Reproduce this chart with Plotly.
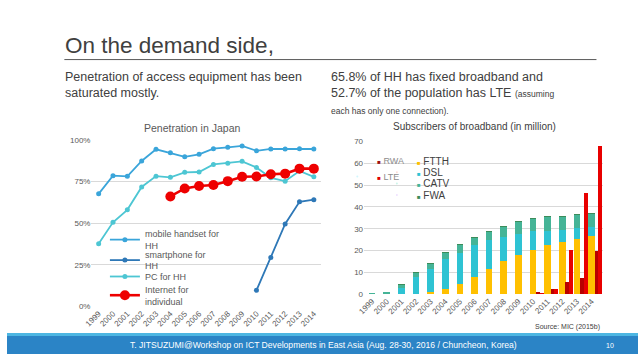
import plotly.graph_objects as go

# ---------------- data ----------------
years = [1999, 2000, 2001, 2002, 2003, 2004, 2005, 2006, 2007,
         2008, 2009, 2010, 2011, 2012, 2013, 2014]
year_labels = [str(y) for y in years]

mobile_hh = [67.6, 78.5, 78.1, 87.3, 94.3, 92.2, 89.8, 91.3, 94.7,
             95.5, 96.3, 93.4, 94.5, 94.5, 94.7, 94.5]
smartphone_hh = [None] * 11 + [9.7, 29.4, 49.5, 62.8, 64.1]
pc_hh = [37.7, 50.5, 58.0, 71.7, 78.2, 77.5, 80.5, 80.7, 85.2,
         86.0, 87.1, 83.4, 77.2, 75.2, 81.3, 77.8]
internet_ind = [None] * 5 + [66.0, 70.8, 72.3, 72.9, 75.2, 77.8,
                             78.0, 79.3, 79.7, 82.7, 82.7]

ftth = [0.0, 0.0, 0.0, 0.3, 0.9, 2.5, 4.6, 8.0, 11.6, 15.2, 17.9,
        20.4, 22.4, 24.0, 25.3, 26.7]
dsl = [0.0, 0.1, 2.7, 7.4, 10.7, 13.5, 14.5, 14.4, 13.1, 11.0, 9.8,
       8.8, 6.8, 5.5, 5.0, 4.3]
catv = [0.2, 0.8, 1.5, 2.1, 2.4, 3.0, 3.4, 3.5, 3.8, 4.4, 5.2,
        5.1, 6.0, 6.0, 5.8, 6.0]
fwa = [0.0, 0.0, 0.01, 0.02, 0.02, 0.02, 0.02, 0.02, 0.02, 0.02, 0.02,
       0.01, 0.01, 0.01, 0.01, 0.01]
rwa = [None] * 11 + [0.7, 2.4, 5.4, 7.6, 19.8]
lte = [None] * 11 + [0.03, 2.5, 20.1, 46.5, 67.8]

left_tickvals = [0, 25, 50, 75, 100]
left_ticktext = ["0%", "25%", "50%", "75%", "100%"]
right_tickvals = [0, 10, 20, 30, 40, 50, 60, 70]

# ---------------- styling ----------------
W, H = 638, 359
FONT = "Liberation Sans, Arial, sans-serif"
GRID = "#D9D9D9"
TXT = "#595959"
DARK = "#404040"


def px(xp):
    return xp / W


def py(yp):
    return 1 - yp / H


def leg(xpix, ypix, size, color):
    return dict(x=px(xpix), y=py(ypix), xanchor="left", yanchor="middle",
                bgcolor="rgba(0,0,0,0)", borderwidth=0,
                font=dict(family=FONT, size=size, color=color),
                traceorder="normal", itemwidth=30)


fig = go.Figure()

# Left chart: penetration lines
left_series = [
    ("mobile handset for<br>HH", mobile_hh, "#3AA5DA", 1.8, 5, "legend", 242),
    ("smartphone for<br>HH", smartphone_hh, "#2E78B7", 1.8, 5, "legend2", 263),
    ("PC for HH", pc_hh, "#4DC6D3", 1.8, 5, "legend3", 279.5),
    ("Internet for<br>individual", internet_ind, "#EE0000", 2.6, 10, "legend4", 299),
]
legends = {}
for name, vals, col, lw, ms, lg, ly in left_series:
    fig.add_trace(go.Scatter(x=year_labels, y=vals, name=name, mode="lines+markers",
                             line=dict(color=col, width=lw),
                             marker=dict(size=ms, color=col),
                             xaxis="x", yaxis="y", legend=lg))
    legends[lg] = leg(99, ly, 9, TXT)

# Right chart: stacked broadband bars
main_series = [("FTTH", ftth, "#FFC000", 161), ("DSL", dsl, "#2EC3D3", 172.5),
               ("CATV", catv, "#45B497", 184), ("FWA", fwa, "#3C8C5A", 196)]
for name, vals, col, ly in main_series:
    fig.add_trace(go.Bar(x=years, y=vals, name=name,
                         marker=dict(color=col, line=dict(width=0)),
                         width=0.45, xaxis="x2", yaxis="y2", showlegend=False))

fig.add_trace(go.Bar(x=years, y=rwa, name="RWA",
                     marker=dict(color="#B80000", line=dict(width=0)),
                     width=0.24, offset=0.22, xaxis="x3", yaxis="y2", showlegend=False))
fig.add_trace(go.Bar(x=years, y=lte, name="LTE",
                     marker=dict(color="#E80000", line=dict(width=0)),
                     width=0.28, offset=0.46, xaxis="x4", yaxis="y2", showlegend=False))

# legend entries for the bar chart (small square swatch + label)
legend_entries = main_series + [("RWA", None, "#9E1010", 161), ("LTE", None, "#E00000", 177)]
for i, (name, _, col, ly) in enumerate(legend_entries):
    lg = "legend%d" % (5 + i)
    is_wireless = name in ("RWA", "LTE")
    fig.add_trace(go.Scatter(x=[None], y=[None], mode="markers",
                             marker=dict(size=1, opacity=0),
                             name="<span style='font-size:6px;color:%s'>■</span> %s" % (col, name),
                             xaxis="x2", yaxis="y2", legend=lg))
    if is_wireless:
        legends[lg] = leg(334, ly, 9, "#8C8C8C")
    else:
        legends[lg] = leg(374, ly, 10, DARK)

xr2 = [1998.45, 2014.81]
dom_left_x = [px(85.4), px(317.5)]
dom_right_x = [px(361), px(603)]
dom_left_y = [py(310.3), py(139.3)]
dom_right_y = [py(297.7), py(141)]

tickfont = dict(family=FONT, size=8, color=TXT)

fig.update_layout(
    width=W, height=H,
    margin=dict(l=0, r=0, t=0, b=0),
    paper_bgcolor="white", plot_bgcolor="white",
    font=dict(family=FONT, color=TXT),
    barmode="stack",
    xaxis=dict(domain=dom_left_x, type="category", range=[-0.5, 15.5],
               tickangle=-45, tickfont=tickfont, showgrid=False, showline=False,
               ticks="", fixedrange=True),
    yaxis=dict(domain=dom_left_y, range=[0, 100], tickvals=left_tickvals,
               ticktext=left_ticktext, tickfont=tickfont, gridcolor=GRID, gridwidth=1,
               zeroline=False, showline=False, ticks="", anchor="x"),
    xaxis2=dict(domain=dom_right_x, range=xr2, tickvals=years, ticktext=year_labels,
                tickangle=-45, tickfont=tickfont, showgrid=False, showline=False,
                ticks="", zeroline=False, anchor="y2"),
    xaxis3=dict(domain=dom_right_x, range=xr2, overlaying="x2", visible=False, anchor="y2"),
    xaxis4=dict(domain=dom_right_x, range=xr2, overlaying="x2", visible=False, anchor="y2"),
    yaxis2=dict(domain=dom_right_y, range=[0, 70], tickvals=right_tickvals,
                tickfont=tickfont, gridcolor=GRID, gridwidth=1, zeroline=False,
                showline=False, ticks="", anchor="x2"),
    showlegend=True,
    **legends,
)

# Footer band and title rule
fig.add_shape(type="rect", xref="paper", yref="paper", x0=0, x1=1, y0=0, y1=py(337.5),
              fillcolor="#4DB6E2", line=dict(width=0), layer="below")
fig.add_shape(type="rect", xref="paper", yref="paper", x0=0, x1=1, y0=0, y1=py(340.5),
              fillcolor="#2B84C6", line=dict(width=0), layer="below")
fig.add_shape(type="line", xref="paper", yref="paper", x0=px(58), x1=px(596),
              y0=py(57), y1=py(57), line=dict(color="#595959", width=1))

anns = [
    dict(text="On the demand side,", x=px(57), y=py(43), xanchor="left", yanchor="middle",
         font=dict(size=22.5, color=DARK)),
    dict(text="Penetration of access equipment has been<br>saturated mostly.",
         x=px(57), y=py(66), xanchor="left", yanchor="top", align="left",
         font=dict(size=12.5, color=DARK)),
    dict(text="65.8% of HH has fixed broadband and<br>52.7% of the population has LTE "
              "<span style='font-size:8.5px'>(assuming</span><br>"
              "<span style='font-size:8.5px'>each has only one connection).</span>",
         x=px(326), y=py(66), xanchor="left", yanchor="top", align="left",
         font=dict(size=12.5, color=DARK)),
    dict(text="Penetration in Japan", x=px(187), y=py(127), xanchor="center", yanchor="middle",
         font=dict(size=10.5, color=TXT)),
    dict(text="Subscribers of broadband (in million)", x=px(473), y=py(126),
         xanchor="center", yanchor="middle", font=dict(size=10, color=DARK)),
    dict(text="Source: MIC (2015b)", x=px(602), y=py(331.5), xanchor="right", yanchor="middle",
         font=dict(size=7, color=DARK)),
    dict(text="T. JITSUZUMI@Workshop on ICT Developments in East Asia (Aug. 28-30, 2016 / Chuncheon, Korea)",
         x=px(320), y=py(350), xanchor="center", yanchor="middle",
         font=dict(size=8.6, color="white")),
    dict(text="10", x=px(610), y=py(350), xanchor="center", yanchor="middle",
         font=dict(size=7, color="white")),
]
for a in anns:
    a.update(xref="paper", yref="paper", showarrow=False)
    a["font"]["family"] = FONT
    fig.add_annotation(**a)

fig.write_html("out.html",
               config={"displayModeBar": False},
               post_script="document.body.style.margin='0';document.body.style.overflow='hidden';")
